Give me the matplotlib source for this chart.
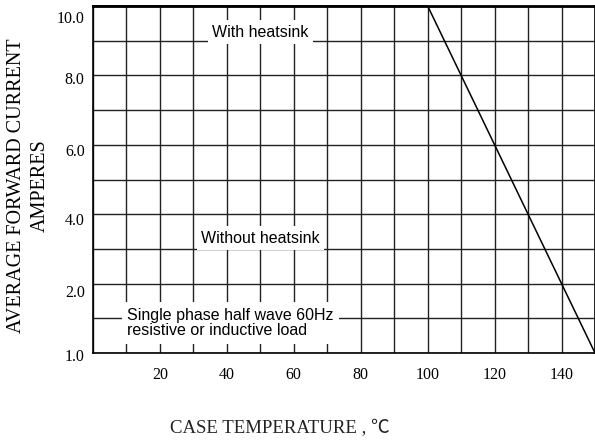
import matplotlib
matplotlib.use("Agg")

import matplotlib.pyplot as plt
import matplotlib.transforms as mtransforms
import numpy as np

# derating curve
temp = [0, 100, 110, 120, 130, 140, 150]
current = [10.0, 10.0, 8.0, 6.0, 4.0, 2.0, 1.0]

# y axis is not linear: evenly spaced grid rows
grid_vals = [1.0, 1.5, 2.0, 3.0, 4.0, 5.0, 6.0, 7.0, 8.0, 9.0, 10.0]
grid_pos = np.arange(len(grid_vals))
y_ticks = [1.0, 2.0, 4.0, 6.0, 8.0, 10.0]
y_ticklabels = ["1.0", "2.0", "4.0", "6.0", "8.0", "10.0"]
x_grid = list(range(0, 151, 10))
x_ticks = [20, 40, 60, 80, 100, 120, 140]

serif = ["Liberation Serif", "DejaVu Serif"]
sans = ["Liberation Sans", "DejaVu Sans"]


def fwd(v):
    return np.interp(v, grid_vals, grid_pos)


def inv(p):
    return np.interp(p, grid_pos, grid_vals)


fig = plt.figure(figsize=(5.95, 4.45), dpi=100)
ax = fig.add_axes([93 / 595, 92 / 445, 502 / 595, 347 / 445])
ax.set_yscale("function", functions=(fwd, inv))
ax.set_xlim(0, 150)
ax.set_ylim(1.0, 10.0)

for x in x_grid:
    ax.axvline(x, color="#222222", lw=1.0, zorder=1)
for v in grid_vals:
    ax.axhline(v, color="#222222", lw=1.0, zorder=1)

ax.plot(temp, current, color="black", lw=1.1, zorder=3, clip_on=False)

box = dict(facecolor="white", edgecolor="none", pad=3)
ax.text(50, 9.25, "With heatsink", ha="center", va="center",
        fontsize=11.5, family=sans, bbox=box, zorder=2)
ax.text(50, 3.31, "Without heatsink", ha="center", va="center",
        fontsize=11.5, family=sans, bbox=box, zorder=2)
ax.text(10.2, 1.43, "Single phase half wave 60Hz\nresistive or inductive load",
        ha="left", va="center", fontsize=11.5, family=sans,
        linespacing=1.05, bbox=dict(facecolor="white", edgecolor="none", pad=4), zorder=2)

ax.set_xticks(x_ticks)
ax.set_xticklabels([str(t) for t in x_ticks], family=serif, fontsize=11.5)
ax.set_yticks(y_ticks)
ax.set_yticklabels(y_ticklabels, family=serif, fontsize=11.5)
ax.minorticks_off()
ax.tick_params(length=0, pad=6)
ax.tick_params(axis="x", pad=10)

# labels sit a little below their grid lines in the original
label_drop = [2, 7, 5, 5, 3, 11]
for lab, d in zip(ax.get_yticklabels(), label_drop):
    offset = mtransforms.ScaledTranslation(0, -d / 100, fig.dpi_scale_trans)
    lab.set_transform(lab.get_transform() + offset)

for side in ["left", "right", "top", "bottom"]:
    ax.spines[side].set_color("black")
    ax.spines[side].set_linewidth(1.2)
ax.spines["top"].set_linewidth(2.0)

fig.text(17 / 595, 1 - 186 / 445, "AVERAGE FORWARD CURRENT", rotation=90,
         ha="center", va="center", family=serif, fontsize=14.5)
fig.text(40 / 595, 1 - 186 / 445, "AMPERES", rotation=90,
         ha="center", va="center", family=serif, fontsize=14.5)
fig.text(280 / 595, 1 - 428 / 445, "CASE TEMPERATURE , ℃",
         ha="center", va="center", family=["Liberation Serif", "Noto Sans CJK SC"],
         fontsize=13.5, color="#222222")

fig.savefig("out.png", dpi=100)
